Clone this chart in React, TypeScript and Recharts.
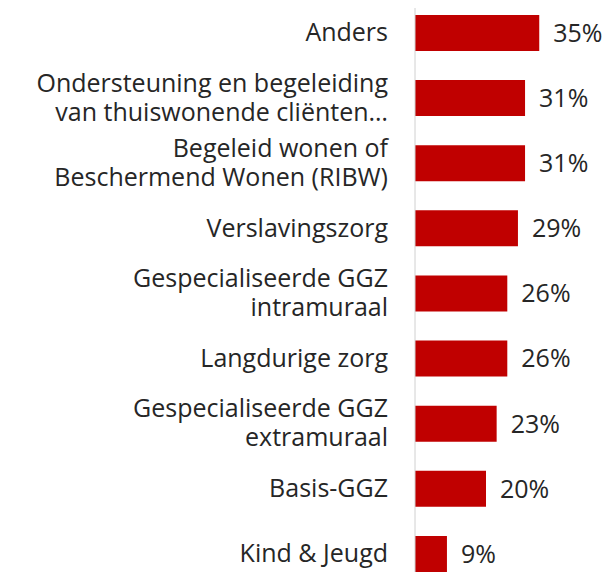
import { BarChart, Bar, XAxis, YAxis, LabelList } from "recharts";

const categories = [
  "Anders",
  "Ondersteuning en begeleiding\nvan thuiswonende cliënten…",
  "Begeleid wonen of\nBeschermend Wonen (RIBW)",
  "Verslavingszorg",
  "Gespecialiseerde GGZ\nintramuraal",
  "Langdurige zorg",
  "Gespecialiseerde GGZ\nextramuraal",
  "Basis-GGZ",
  "Kind & Jeugd",
];
const percentages = [35, 31, 31, 29, 26, 26, 23, 20, 9];

const data = categories.map((name, i) => ({ name, value: percentages[i] }));

const FONT = "'Open Sans', sans-serif";

function CategoryTick(props: any) {
  const { x, y, payload } = props;
  const lines: string[] = String(payload.value).split("\n");
  const pitch = 29;
  const start = -((lines.length - 1) * pitch) / 2;
  return (
    <text
      x={x - 19}
      y={y}
      textAnchor="end"
      fill="#262626"
      fontSize={25}
      fontFamily={FONT}
    >
      {lines.map((line, i) => (
        <tspan key={i} x={x - 19} y={y + start + i * pitch} dy="0.35em">
          {line}
        </tspan>
      ))}
    </text>
  );
}

export default function App() {
  return (
    <div style={{ margin: -8, width: 616, height: 580, overflow: "hidden", background: "#fff" }}>
      <BarChart
        width={616}
        height={586}
        data={data}
        layout="vertical"
        margin={{ top: 0, right: 59, bottom: 0, left: 0 }}
        barCategoryGap={29}
      >
        <XAxis type="number" domain={[0, 40]} hide />
        <YAxis
          type="category"
          dataKey="name"
          width={415}
          axisLine={{ stroke: "#d0d0d0", strokeWidth: 1 }}
          tickLine={false}
          tick={<CategoryTick />}
          interval={0}
        />
        <Bar dataKey="value" fill="#C00000" barSize={36} isAnimationActive={false}>
          <LabelList
            dataKey="value"
            position="right"
            offset={14}
            formatter={(v: any) => `${v}%`}
            fill="#262626"
            fontSize={25}
            fontFamily={FONT}
          />
        </Bar>
      </BarChart>
    </div>
  );
}
